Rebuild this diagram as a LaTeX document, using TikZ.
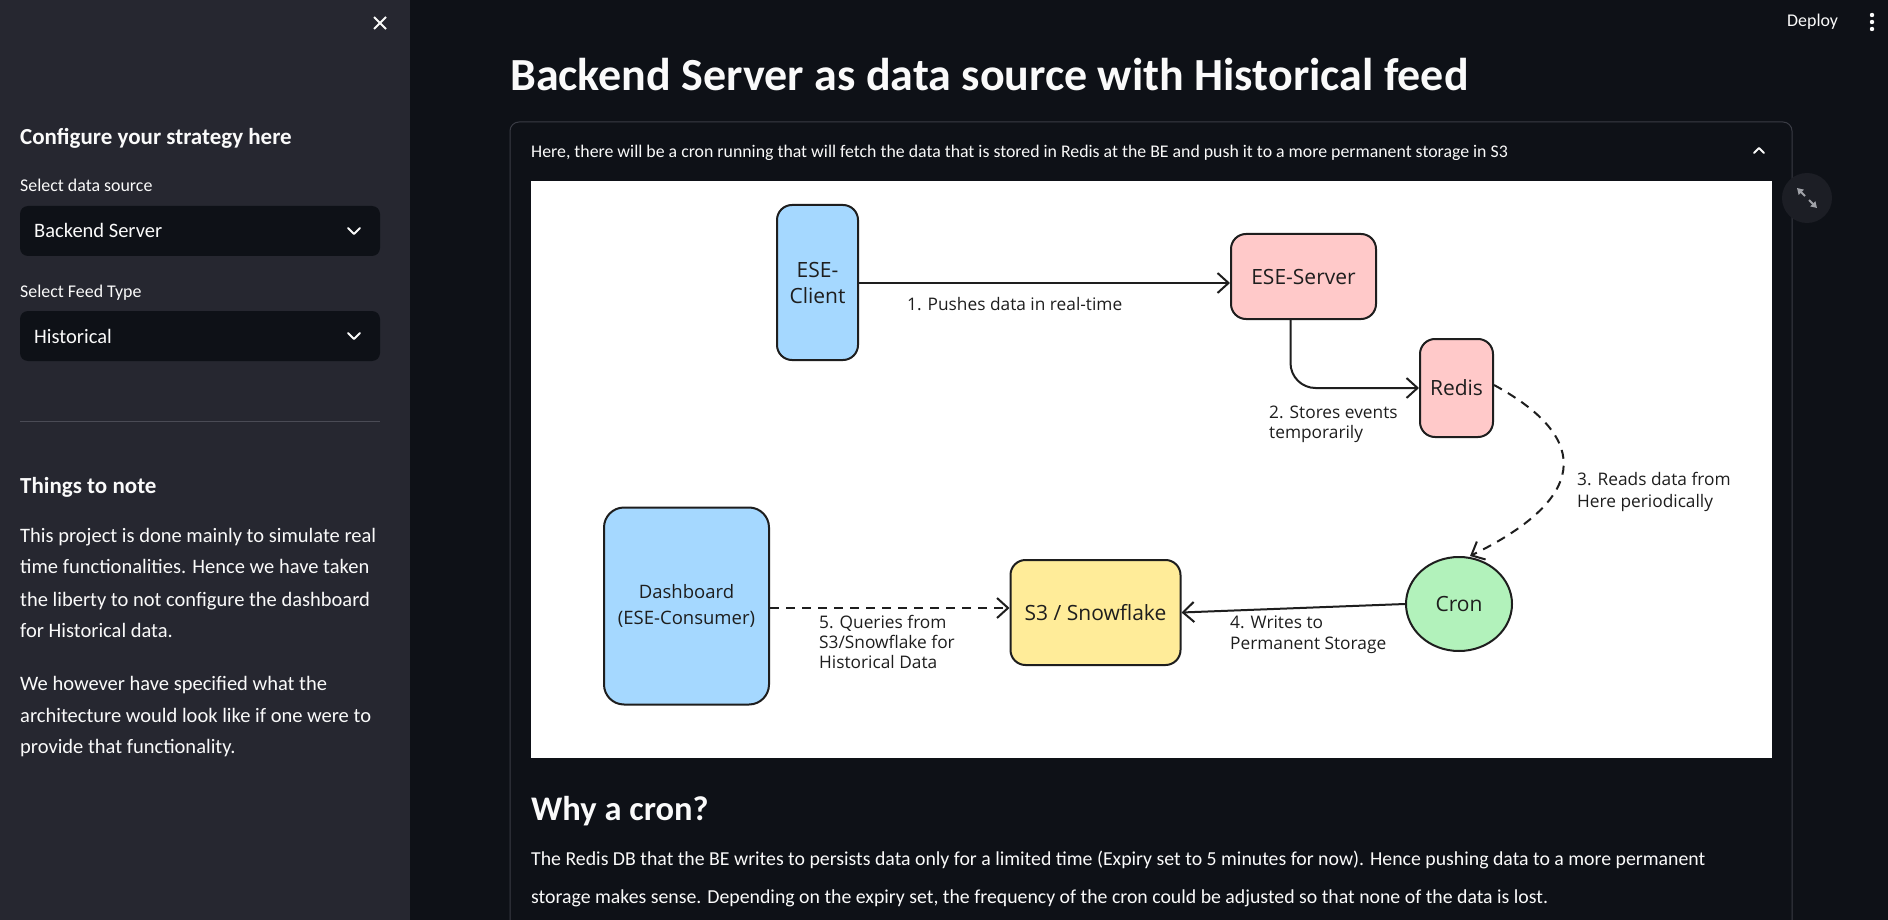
\documentclass[tikz,border=0pt]{standalone}
\usepackage{fontspec}
\setmainfont{Carlito}
\newfontfamily\hand{Open Sans}
\usetikzlibrary{arrows.meta,shapes.geometric}
\definecolor{sidebg}{HTML}{262730}
\definecolor{mainbg}{HTML}{0E1117}
\definecolor{selbg}{HTML}{0E1117}
\definecolor{divider}{HTML}{4A4B55}
\definecolor{expborder}{HTML}{3A3C45}
\definecolor{uiwhite}{HTML}{FAFAFA}
\definecolor{btnbg}{HTML}{1C1E25}
\definecolor{icongray}{HTML}{A0A2A8}
\definecolor{ink}{HTML}{1E1E1E}
\definecolor{cblue}{HTML}{A5D8FF}
\definecolor{cpink}{HTML}{FFC9C9}
\definecolor{cgreen}{HTML}{B2F2BB}
\definecolor{cyellow}{HTML}{FFEC99}
\tikzset{
  ui/.style={text=uiwhite, inner sep=0pt, anchor=base west},
  body/.style={ui, font=\fontsize{20.5}{24}\selectfont},
  mbody/.style={ui, font=\fontsize{19.8}{24}\selectfont},
  lbl/.style={ui, font=\fontsize{17.9}{21}\selectfont},
  hdr/.style={ui, font=\bfseries\fontsize{23}{27}\selectfont},
  selbox/.style={fill=selbg, rounded corners=8pt},
  chev/.style={draw=uiwhite, line width=2pt, line cap=round, line join=round},
  box/.style={draw=ink, line width=2pt, rounded corners=15pt, align=center, text=ink,
    font=\hand\fontsize{21}{26}\selectfont, inner sep=2pt},
  lab/.style={text=ink, inner sep=0pt, anchor=base west, font=\hand\fontsize{17.3}{20}\selectfont},
  conn/.style={draw=ink, line width=2pt, -{Straight Barb[length=11pt,width=20pt,line width=2pt]}},
  dconn/.style={conn, dash pattern=on 9pt off 7pt},
}
\begin{document}
\begin{tikzpicture}[x=1pt,y=-1pt]
\useasboundingbox (0,0) rectangle (1888,920);
% backgrounds
\fill[mainbg] (0,0) rectangle (1888,920);
\fill[sidebg] (0,0) rectangle (410,920);
% close X
\draw[draw=uiwhite, line width=2pt] (374,17) -- (386,29) (386,17) -- (374,29);
% sidebar
\node[hdr] (cfg) at (20,145) {Configure your strategy here};
\node[lbl] (lds) at (20,192) {Select data source};
\fill[selbox] (20,206) rectangle (380,256);
\node[body] (sv1) at (34,238) {Backend Server};
\draw[chev] (348,228) -- (354,234) -- (360,228);
\node[lbl] (lft) at (20,297) {Select Feed Type};
\fill[selbox] (20,311) rectangle (380,361);
\node[body] (sv2) at (34,343) {Historical};
\draw[chev] (348,333) -- (354,339) -- (360,333);
\draw[divider, line width=1pt] (20,421) -- (380,421);
\node[hdr] (ttn) at (20,493) {Things to note};
\node[body] (p1) at (20,542) {This project is done mainly to simulate real};
\node[body] (p2) at (20,573) {time functionalities. Hence we have taken};
\node[body] (p3) at (20,606) {the liberty to not configure the dashboard};
\node[body] (p4) at (20,637) {for Historical data.};
\node[body] (p5) at (20,690) {We however have specified what the};
\node[body] (p6) at (20,722) {architecture would look like if one were to};
\node[body] (p7) at (20,753) {provide that functionality.};
% top bar
\node[lbl] (dep) at (1787,27) {Deploy};
\fill[uiwhite] (1872,15) circle (2.2) (1872,22) circle (2.2) (1872,29) circle (2.2);
% title
\node[ui, font=\bfseries\fontsize{46}{50}\selectfont] (title) at (510,91) {Backend Server as data source with Historical feed};
% expander
\draw[expborder, line width=1pt, rounded corners=9pt] (510,930) -- (510,122) -- (1792,122) -- (1792,930);
\node[ui, font=\fontsize{17.8}{21}\selectfont] (exph) at (531,158) {Here, there will be a cron running that will fetch the data that is stored in Redis at the BE and push it to a more permanent storage in S3};
\draw[chev] (1754,153) -- (1759,148) -- (1764,153);
% expand button
\fill[btnbg] (1807,198) circle (25);
\draw[icongray, line width=2pt, -{Triangle[length=6pt,width=7pt]}] (1805,196) -- (1797,188);
\draw[icongray, line width=2pt, -{Triangle[length=6pt,width=7pt]}] (1809,200) -- (1817,208);
% diagram image
\fill[white] (531,181) rectangle (1772,758);
\node[box, fill=cblue, minimum width=81pt, minimum height=155pt] (cl) at (817.5,282.5) {ESE-\\Client};
\node[box, fill=cpink, minimum width=145pt, minimum height=85pt] (sv) at (1303.5,276.5) {ESE-Server};
\node[box, fill=cpink, minimum width=73pt, minimum height=98pt] (rd) at (1456.5,388) {Redis};
\node[box, fill=cgreen, ellipse, minimum width=106pt, minimum height=94pt, inner sep=0pt] (cr) at (1459,604) {Cron};
\node[box, fill=cyellow, minimum width=170pt, minimum height=105pt] (s3) at (1095.5,612.5) {S3 / Snowflake};
\node[box, fill=cblue, minimum width=165pt, minimum height=197pt, rounded corners=20pt, font=\hand\fontsize{18.5}{26}\selectfont] (db) at (686.5,606) {Dashboard\\(ESE-Consumer)};
% connectors
\draw[conn] (cl.east |- 0,283) -- (sv.west |- 0,283);
\draw[conn, rounded corners=25pt] ([xshift=-13pt]sv.south) |- (rd.west);
\draw[dconn] ([yshift=3pt]rd.east) .. controls (1595,440) and (1585,500) .. ([xshift=11pt]cr.north);
\draw[conn] (cr.west) -- (s3.east);
\draw[dconn] (db.east |- 0,608) -- (s3.west |- 0,608);
% labels
\node[lab] (l1) at (907,310) {1. Pushes data in real-time};
\node[lab] (l2a) at (1269,418) {2. Stores events};
\node[lab] (l2b) at (1269,438) {temporarily};
\node[lab] (l3a) at (1577,485) {3. Reads data from};
\node[lab] (l3b) at (1577,507) {Here periodically};
\node[lab] (l4a) at (1230,628) {4. Writes to};
\node[lab] (l4b) at (1230,649) {Permanent Storage};
\node[lab] (l5a) at (819,628) {5. Queries from};
\node[lab] (l5b) at (819,648) {S3/Snowflake for};
\node[lab] (l5c) at (819,668) {Historical Data};
% why a cron
\node[ui, font=\bfseries\fontsize{34.5}{40}\selectfont] (why) at (531,820) {Why a cron?};
\node[mbody] (w1) at (531,865) {The Redis DB that the BE writes to persists data only for a limited time (Expiry set to 5 minutes for now). Hence pushing data to a more permanent};
\node[mbody] (w2) at (531,903) {storage makes sense. Depending on the expiry set, the frequency of the cron could be adjusted so that none of the data is lost.};
\end{tikzpicture}
\end{document}
